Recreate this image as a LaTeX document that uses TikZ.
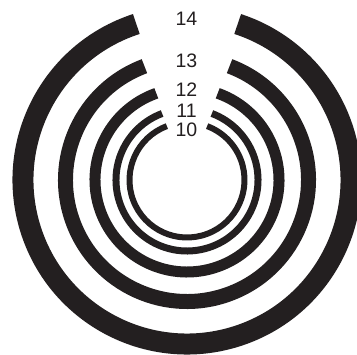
\documentclass[tikz,border=0pt]{standalone}
\usepackage{fontspec}
\setmainfont{Liberation Sans}
\definecolor{ink}{RGB}{35,31,32}
\begin{document}
\begin{tikzpicture}[x=1pt,y=1pt,
  ringline/.style={draw=ink,line cap=butt},
  lbl/.style={inner sep=0pt,text=ink,font=\fontsize{19.5}{20}\selectfont}]
\useasboundingbox (0,0) rectangle (357,355);
\coordinate (c) at (187,175);
% rings: gap half-angle, radius, width
\foreach \g/\r/\w in {20.5/57.5/6, 20.5/71/7, 19.5/92/11, 20.5/121.5/15, 18/164/21}{
  \draw[ringline,line width=\w] (c) ++(90+\g:\r) arc[start angle=90+\g, end angle=450-\g, radius=\r];
}
\node[lbl] (l14) at (186.5,336) {14};
\node[lbl] (l13) at (186.5,294) {13};
\node[lbl] (l12) at (186.5,265) {12};
\node[lbl] (l11) at (186.5,244) {11};
\node[lbl] (l10) at (186.5,225) {10};
\end{tikzpicture}
\end{document}
